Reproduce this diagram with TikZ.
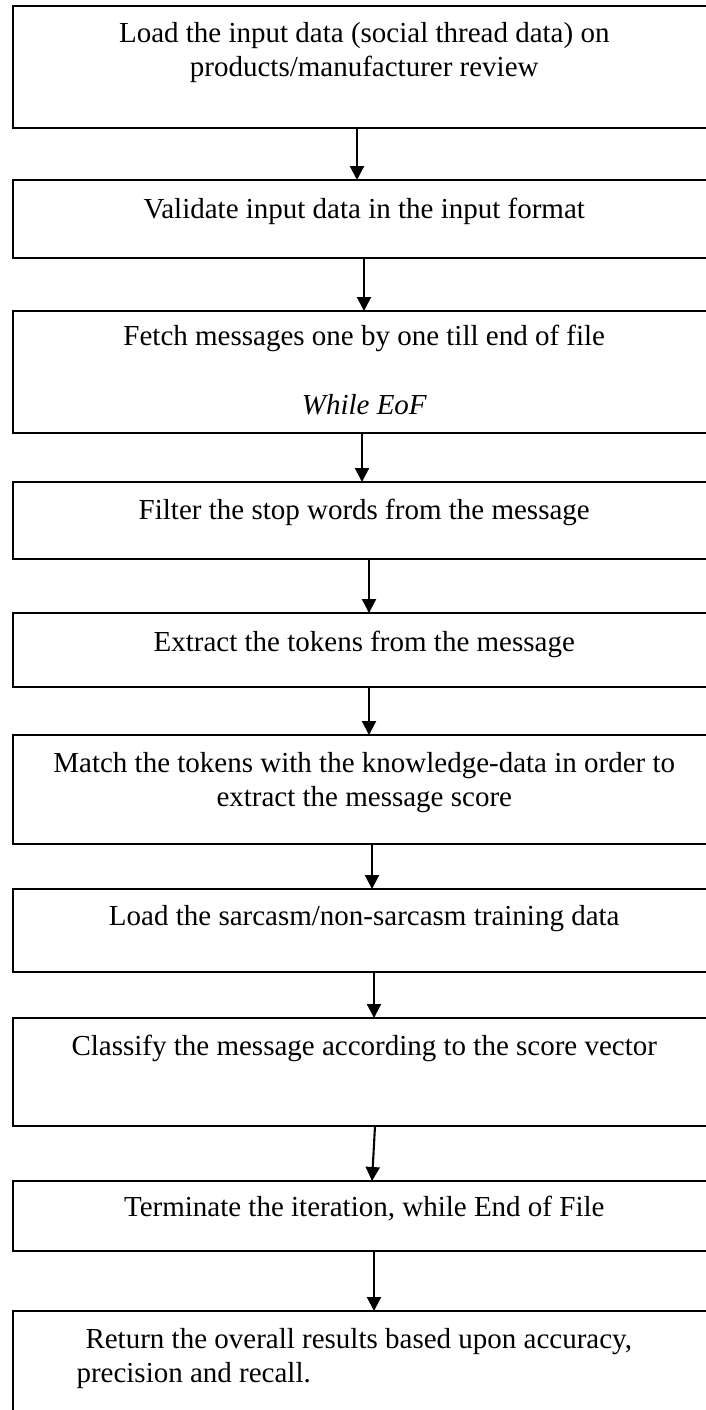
\documentclass[tikz,border=0pt]{standalone}
\usepackage{fontspec}
\setmainfont{Liberation Serif}
\usetikzlibrary{arrows.meta}
\begin{document}
\begin{tikzpicture}[x=1pt,y=-1pt,
  box/.style={draw=black,line width=2pt,minimum width=703.5pt,inner sep=0pt,outer sep=0pt},
  txt/.style={inner sep=0pt,outer sep=0pt,font=\fontsize{29}{33}\selectfont},
  arr/.style={line width=2.1pt,-{Triangle[length=14pt,width=14pt]}}]
\useasboundingbox (0,0) rectangle (706,1410);
\clip (0,0) rectangle (706,1410);
% boxes
\node[box,minimum height=122pt] (b1) at (364.25,67) {};
\node[box,minimum height=78pt] (b2) at (364.25,219) {};
\node[box,minimum height=122pt] (b3) at (364.25,372) {};
\node[box,minimum height=77pt] (b4) at (364.25,520.5) {};
\node[box,minimum height=74pt] (b5) at (364.25,650) {};
\node[box,minimum height=109pt] (b6) at (364.25,789.5) {};
\node[box,minimum height=83pt] (b7) at (364.25,930.5) {};
\node[box,minimum height=108pt] (b8) at (364.25,1072) {};
\node[box,minimum height=70pt] (b9) at (364.25,1216) {};
\node[box,minimum height=119pt] (b10) at (364.25,1370.5) {};
% texts
\node[txt,anchor=base] (t1a) at (364.25,43) {Load the input data (social thread data) on};
\node[txt,anchor=base] (t1b) at (364.25,77) {products/manufacturer review};
\node[txt,anchor=base] (t2) at (364.25,218) {Validate input data in the input format};
\node[txt,anchor=base] (t3a) at (364.25,345) {Fetch messages one by one till end of file};
\node[txt,anchor=base] (t3b) at (364.25,414) {\itshape While EoF};
\node[txt,anchor=base] (t4) at (364.25,519) {Filter the stop words from the message};
\node[txt,anchor=base] (t5) at (364.25,651) {Extract the tokens from the message};
\node[txt,anchor=base] (t6a) at (364.25,772) {Match the tokens with the knowledge-data in order to};
\node[txt,anchor=base] (t6b) at (364.25,806) {extract the message score};
\node[txt,anchor=base] (t7) at (364.25,925) {Load the sarcasm/non-sarcasm training data};
\node[txt,anchor=base] (t8) at (364.25,1055) {Classify the message according to the score vector};
\node[txt,anchor=base] (t9) at (364.25,1216) {Terminate the iteration, while End of File};
\node[txt,anchor=base west] (t10a) at (85.5,1348) {Return the overall results based upon accuracy,};
\node[txt,anchor=base west] (t10b) at (76.5,1382) {precision and recall.};
% arrow x positions
\coordinate (a1) at (357,0);
\coordinate (a2) at (364,0);
\coordinate (a3) at (362,0);
\coordinate (a4) at (369,0);
\coordinate (a5) at (369,0);
\coordinate (a6) at (372,0);
\coordinate (a7) at (374,0);
\coordinate (a8s) at (375,0);
\coordinate (a8e) at (372,0);
\coordinate (a9) at (374,0);
% connectors
\draw[arr] (b1.south -| a1) -- (b2.north -| a1);
\draw[arr] (b2.south -| a2) -- (b3.north -| a2);
\draw[arr] (b3.south -| a3) -- (b4.north -| a3);
\draw[arr] (b4.south -| a4) -- (b5.north -| a4);
\draw[arr] (b5.south -| a5) -- (b6.north -| a5);
\draw[arr] (b6.south -| a6) -- (b7.north -| a6);
\draw[arr] (b7.south -| a7) -- (b8.north -| a7);
\draw[arr] (b8.south -| a8s) -- (b9.north -| a8e);
\draw[arr] (b9.south -| a9) -- (b10.north -| a9);
\end{tikzpicture}
\end{document}
